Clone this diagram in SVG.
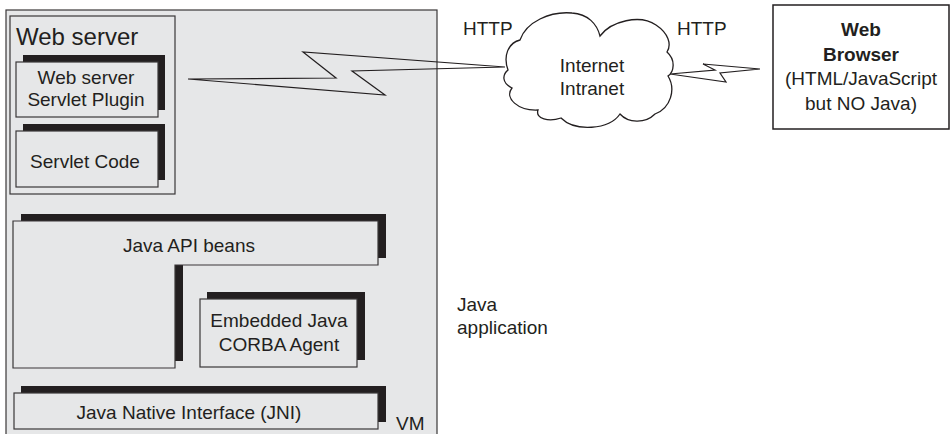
<svg xmlns="http://www.w3.org/2000/svg" width="951" height="434" viewBox="0 0 951 434">
<style>
text{font-family:"Liberation Sans",Arial,sans-serif;font-size:19px;fill:#231f20}
.c{text-anchor:middle}
.b{font-weight:bold}
.box{fill:#e6e7e8;stroke:#3a3738;stroke-width:1.2}
.sh{fill:#231f20;stroke:none}
.wire{fill:none;stroke:#231f20;stroke-width:1.2;stroke-linejoin:miter}
</style>
<rect width="951" height="434" fill="#ffffff"/>
<g id="vm">
<rect x="6" y="10" width="431" height="430" class="box"/>
<text x="396" y="430">VM</text>
</g>
<g id="webserver">
<rect x="10" y="16" width="165" height="178" class="box"/>
<text x="16" y="45" style="font-size:24px">Web server</text>
</g>
<g id="plugin">
<rect x="23" y="55" width="142" height="55" class="sh"/>
<rect x="16" y="62" width="142" height="55" class="box"/>
<text x="86" y="84" class="c">Web server</text>
<text x="86" y="106" class="c">Servlet Plugin</text>
</g>
<g id="servletcode">
<rect x="23" y="124" width="142" height="56" class="sh"/>
<rect x="16" y="131" width="142" height="56" class="box"/>
<text x="85" y="168" class="c">Servlet Code</text>
</g>
<g id="apibeans">
<polygon points="21,214 386,214 386,258 183,258 183,361 21,361" class="sh"/>
<polygon points="13,221 378,221 378,265 175,265 175,368 13,368" class="box"/>
<text x="189" y="252" class="c">Java API beans</text>
</g>
<g id="corba">
<rect x="207" y="292" width="158" height="68" class="sh"/>
<rect x="200" y="299" width="157" height="68" class="box"/>
<text x="279" y="327" class="c">Embedded Java</text>
<text x="279" y="351" class="c">CORBA Agent</text>
</g>
<g id="jni">
<rect x="21" y="386" width="365" height="36" class="sh"/>
<rect x="14" y="393" width="364" height="36" class="box"/>
<text x="189" y="419" class="c">Java Native Interface (JNI)</text>
</g>
<g id="javaapp">
<text x="457" y="311">Java</text>
<text x="457" y="334">application</text>
</g>
<g id="cloud">
<path d="M508,70 C503,56 508,43 520,40 C526,22 550,11 572,13 C588,14 597,24 600,36 C611,21 640,14 656,25 C668,33 672,44 667,52 C676,60 674,72 668,76 C676,89 671,108 655,114 C645,124 628,123 620,114 C609,130 575,132 561,118 C549,122 535,119 538,110 C518,111 504,98 512,88 C502,83 502,75 508,70 Z" fill="#ffffff" stroke="#231f20" stroke-width="1.3"/>
<text x="592" y="72" class="c">Internet</text>
<text x="592" y="95" class="c">Intranet</text>
</g>
<g id="browser">
<rect x="773" y="5" width="176" height="124" fill="#ffffff" stroke="#231f20" stroke-width="1.5"/>
<text x="861" y="36" class="c b">Web</text>
<text x="861" y="61" class="c b">Browser</text>
<text x="861" y="85" class="c">(HTML/JavaScript</text>
<text x="861" y="110" class="c">but NO Java)</text>
</g>
<g id="connectors">
<polygon points="188,79 336,78 303,52 505,67 352,71 385,95" class="wire"/>
<polygon points="670,74 715,70 703,64 760,69 720,73 726,82" class="wire"/>
<text x="463" y="35">HTTP</text>
<text x="677" y="35">HTTP</text>
</g>
</svg>
